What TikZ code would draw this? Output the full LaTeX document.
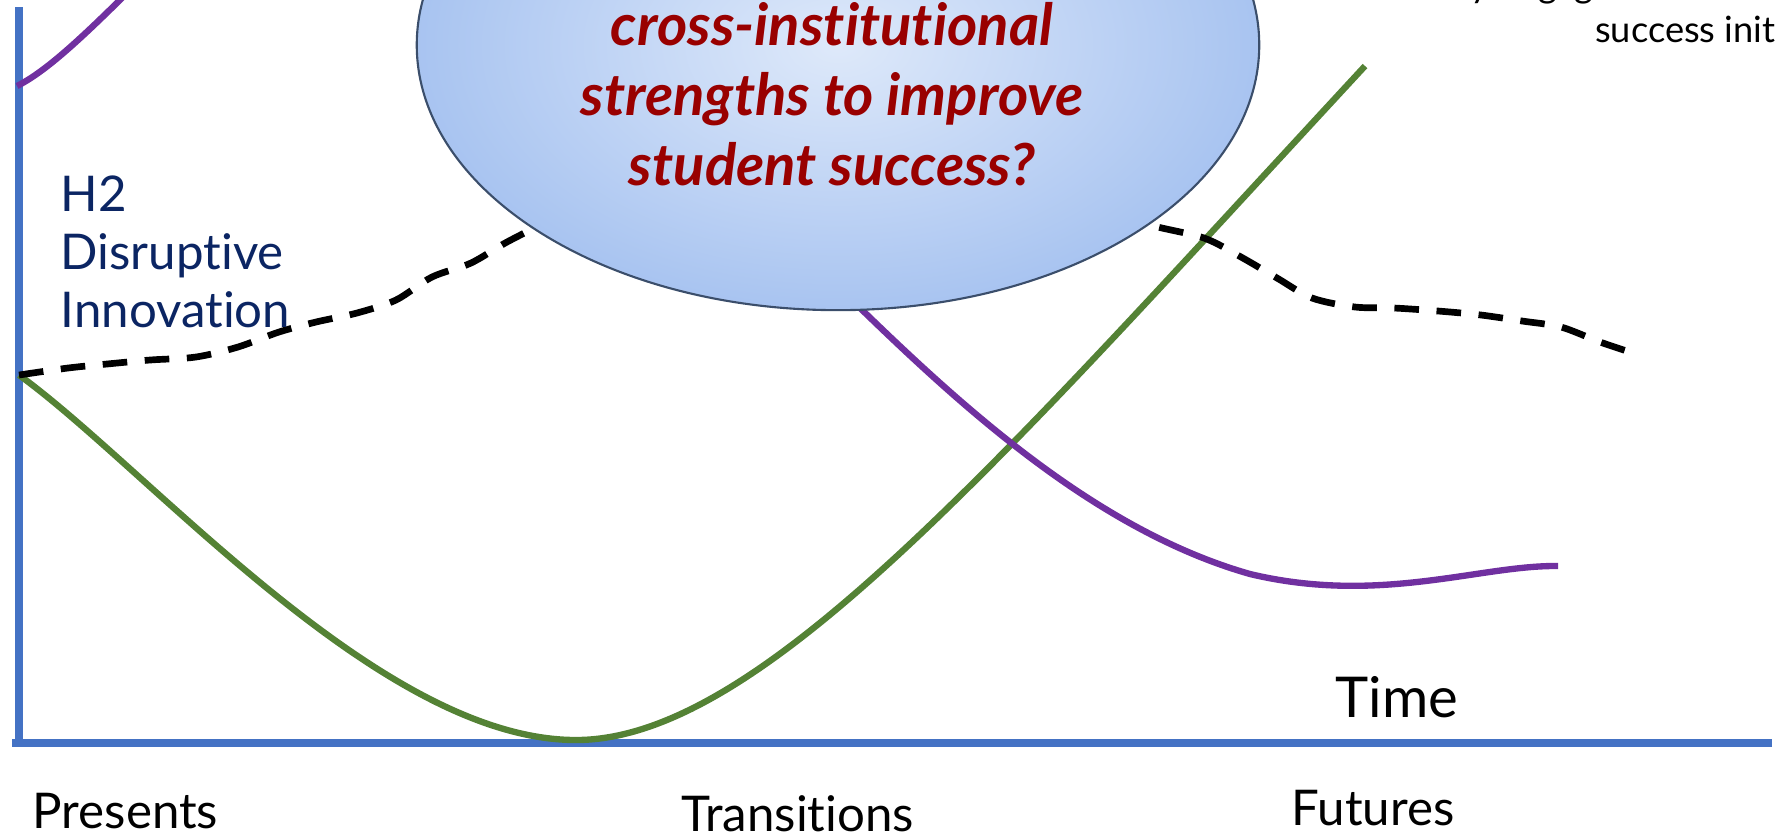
\documentclass[tikz,border=0pt]{standalone}
\usepackage{fontspec}
\setmainfont{Lato}[Ligatures=CommonOff]
\usetikzlibrary{shapes.geometric}
\definecolor{axisblue}{HTML}{4472C4}
\definecolor{hgreen}{HTML}{548235}
\definecolor{hpurple}{HTML}{7030A0}
\definecolor{hnavy}{HTML}{0B2563}
\definecolor{qred}{HTML}{990000}
\definecolor{bubblein}{HTML}{DEE9FA}
\definecolor{bubbleout}{HTML}{79A3E8}
\definecolor{bubbleline}{HTML}{3B4E6B}
\pgfdeclareradialshading{bubbleshade}{\pgfpoint{0bp}{0bp}}{color(0bp)=(bubblein); color(47bp)=(bubbleout); color(50bp)=(bubbleout)}
\begin{document}
\begin{tikzpicture}[x=0.01cm, y=-0.01cm]
\tikzset{axe/.style={draw=axisblue, line width=2pt},
  courbe/.style={line width=1.8pt},
  tendance/.style={draw=black, line width=1.9pt, dash pattern=on 7pt off 5pt},
  texte/.style={inner sep=0pt},
  etape/.style={texte, anchor=base west, font=\fontsize{14}{17}\selectfont}}
\useasboundingbox (0,0) rectangle (1779,835);
\clip (0,0) rectangle (1779,835);
\draw[axe] (19,7) -- (19,743);
\draw[axe, line width=2.3pt] (12,743) -- (1772,743);
\draw[courbe, hgreen] (19,375) .. controls (150,470) and (380,740) .. (576,740)
  .. controls (760,740) and (1000,460) .. (1365,66);
\draw[courbe, hpurple] (17,86) .. controls (45,72) and (80,40) .. (135,-15);
\draw[courbe, hpurple] (780,230) .. controls (900,345) and (1060,520) .. (1250,574)
  .. controls (1380,605) and (1480,565) .. (1558,566);
\draw[tendance] plot[smooth, tension=0.5] coordinates {(19,375) (68,368) (107,364) (150,360)
  (196,357) (238,347) (279,332) (316,322) (357,313) (396,300) (432,277) (471,263) (507,242) (560,215)};
\draw[tendance] plot[smooth, tension=0.5] coordinates {(1120,212) (1150,225) (1204,238) (1241,257)
  (1277,278) (1312,298) (1355,307) (1394,308) (1438,311) (1481,315) (1522,321) (1561,327)
  (1600,342) (1636,354)};
\node[ellipse, draw=bubbleline, line width=0.6pt, shading=bubbleshade,
  minimum width=8.42cm, minimum height=5.30cm, inner sep=0pt] (bubble) at (838,45) {};
\node[texte, anchor=base, align=center, text=qred, font=\fontsize{16.5}{19.9}\selectfont\bfseries\itshape]
  (question) at (832,185) {cross-institutional\\strengths to improve\\student success?};
\node[texte, anchor=base west, align=left, text=hnavy, font=\fontsize{14}{16.4}\selectfont]
  (horizon) at (60,327) {H2\\Disruptive\\Innovation};
\node[texte, anchor=base west, font=\fontsize{10.3}{12.4}\selectfont] (notehaut) at (1470,-3) {y engag};
\node[texte, anchor=base east, font=\fontsize{10.3}{12.4}\selectfont] (notebas) at (1776,42) {success init};
\node[texte, anchor=base west, font=\fontsize{16}{19}\selectfont] (temps) at (1335,717) {Time};
\node[etape] (presents) at (32,828) {Presents};
\node[etape] (transitions) at (681,831) {Transitions};
\node[etape] (futures) at (1291,825) {Futures};
\end{tikzpicture}
\end{document}
